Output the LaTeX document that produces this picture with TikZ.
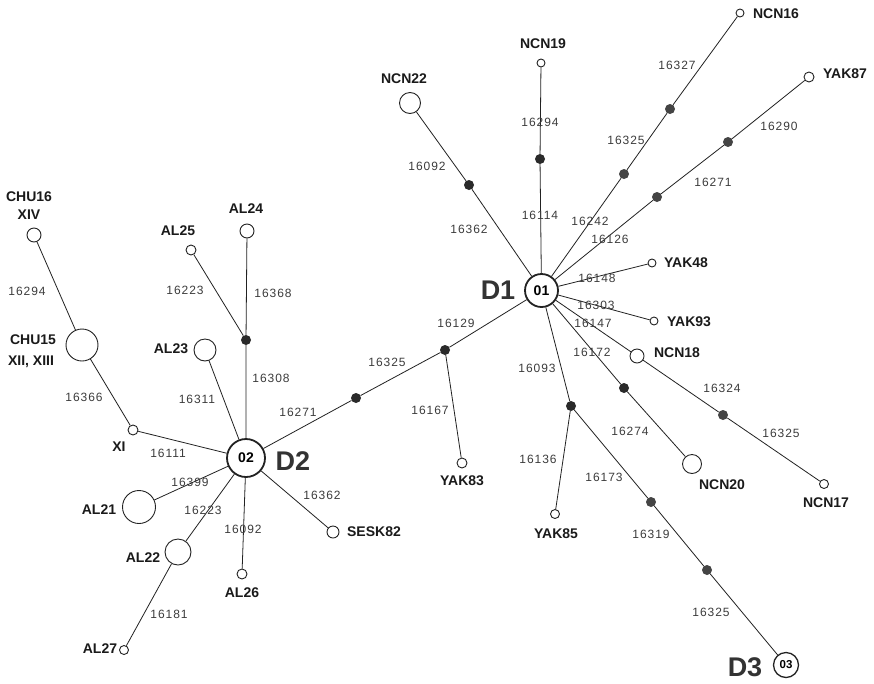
\documentclass[tikz,border=0pt]{standalone}
\usepackage{fontspec}
\setmainfont{Liberation Sans}
\newfontfamily\mutfont[LetterSpace=8]{Liberation Sans}
\definecolor{linec}{HTML}{222222}
\definecolor{dotc}{HTML}{2A2A2A}
\definecolor{dotg}{HTML}{444444}
\definecolor{labc}{HTML}{1A1A1A}
\definecolor{mutc}{HTML}{3C3C3C}
\definecolor{dc}{HTML}{333333}
\begin{document}
\begin{tikzpicture}[x=1pt,y=-1pt,
 edge/.style={draw=linec, line width=0.8pt},
 hap/.style={circle, draw=linec, fill=white, inner sep=0pt, line width=0.9pt},
 bighap/.style={hap, line width=1.8pt, font=\bfseries\fontsize{14}{14}\selectfont},
 mvd/.style={circle, fill=dotc, inner sep=0pt, minimum size=10pt},
 mvg/.style={circle, fill=dotg, inner sep=0pt, minimum size=10pt},
 lab/.style={font=\bfseries\fontsize{14}{14}\selectfont, text=labc, inner sep=0pt},
 mut/.style={font=\mutfont\fontsize{12}{12}\selectfont, text=mutc, inner sep=0pt},
 dlab/.style={font=\bfseries\fontsize{27}{27}\selectfont, text=dc, inner sep=0pt}]
\useasboundingbox[fill=white] (0,0) rectangle (874,683);

% central haplotypes
\node[bighap, minimum size=33pt] (D1) at (541.5,290.5) {01};
\node[bighap, minimum size=38pt] (D2) at (246,458) {02};
\node[bighap, minimum size=25pt, line width=1.3pt, font=\bfseries\fontsize{11.5}{11.5}\selectfont] (D3) at (786,665) {03};

% haplotypes
\node[hap, minimum size=8pt] (NCN19) at (541,63) {};
\node[hap, minimum size=21pt] (NCN22) at (410,103) {};
\node[hap, minimum size=8pt] (NCN16) at (740,13) {};
\node[hap, minimum size=10pt] (YAK87) at (809,77) {};
\node[hap, minimum size=8pt] (YAK48) at (652,263) {};
\node[hap, minimum size=8pt] (YAK93) at (654,321) {};
\node[hap, minimum size=14pt] (NCN18) at (637,356) {};
\node[hap, minimum size=9pt] (NCN17) at (824,484) {};
\node[hap, minimum size=19pt] (NCN20) at (692,464) {};
\node[hap, minimum size=9pt] (YAK85) at (555,514) {};
\node[hap, minimum size=10pt] (YAK83) at (462,463) {};
\node[hap, minimum size=12pt] (SESK82) at (333,532) {};
\node[hap, minimum size=10pt] (AL26) at (242,574) {};
\node[hap, minimum size=9pt] (AL27) at (124,650) {};
\node[hap, minimum size=26pt] (AL22) at (178,552) {};
\node[hap, minimum size=33pt] (AL21) at (139,507) {};
\node[hap, minimum size=10pt] (XI) at (133,430) {};
\node[hap, minimum size=32pt] (CHU15) at (82,345) {};
\node[hap, minimum size=14pt] (CHU16) at (34,235) {};
\node[hap, minimum size=22pt] (AL23) at (205,350) {};
\node[hap, minimum size=14pt] (AL24) at (247,231) {};
\node[hap, minimum size=10pt] (AL25) at (191,250) {};

% median vectors / intermediate mutations
\node[mvd] (m1) at (246,340) {};
\node[mvd] (m2) at (356,398) {};
\node[mvd] (m3) at (445,350) {};
\node[mvd] (m4) at (469,185) {};
\node[mvd] (m5) at (540,159) {};
\node[mvg] (m6) at (624,174) {};
\node[mvg] (m7) at (670,109) {};
\node[mvg] (m8) at (657,197) {};
\node[mvg] (m9) at (728,142) {};
\node[mvg] (m10) at (723,415) {};
\node[mvd] (m11) at (624,388) {};
\node[mvd] (m12) at (571,406) {};
\node[mvg] (m13) at (651,502) {};
\node[mvg] (m14) at (707,570) {};

% connectors
\draw[edge] (D1) -- (m4) -- (NCN22);
\draw[edge] (D1) -- (m5) -- (NCN19);
\draw[edge] (D1) -- (m6) -- (m7) -- (NCN16);
\draw[edge] (D1) -- (m8) -- (m9) -- (YAK87);
\draw[edge] (D1) -- (YAK48);
\draw[edge] (D1) -- (YAK93);
\draw[edge] (D1) -- (NCN18) -- (m10) -- (NCN17);
\draw[edge] (D1) -- (m11) -- (NCN20);
\draw[edge] (D1) -- (m12) -- (m13) -- (m14) -- (D3);
\draw[edge] (m12) -- (YAK85);
\draw[edge] (D1) -- (m3) -- (m2) -- (D2);
\draw[edge] (m3) -- (YAK83);
\draw[edge] (D2) -- (SESK82);
\draw[edge] (D2) -- (AL26);
\draw[edge] (D2) -- (AL22) -- (AL27);
\draw[edge] (D2) -- (AL21);
\draw[edge] (D2) -- (XI) -- (CHU15) -- (CHU16);
\draw[edge] (D2) -- (AL23);
\draw[edge] (D2) -- (m1) -- (AL24);
\draw[edge] (m1) -- (AL25);

% haplotype labels
\node[lab] (tNCN19) at (543,44) {NCN19};
\node[lab] (tNCN22) at (404,79) {NCN22};
\node[lab] (tNCN16) at (776,14) {NCN16};
\node[lab] (tYAK87) at (845,74) {YAK87};
\node[lab] (tYAK48) at (686,263) {YAK48};
\node[lab] (tYAK93) at (689,322) {YAK93};
\node[lab] (tNCN18) at (677,353) {NCN18};
\node[lab] (tNCN17) at (826,503) {NCN17};
\node[lab] (tNCN20) at (722,485) {NCN20};
\node[lab] (tYAK85) at (556,534) {YAK85};
\node[lab] (tYAK83) at (462,481) {YAK83};
\node[lab] (tSESK82) at (374,532) {SESK82};
\node[lab] (tAL26) at (242,593) {AL26};
\node[lab] (tAL27) at (100,649) {AL27};
\node[lab] (tAL22) at (143,558) {AL22};
\node[lab] (tAL21) at (99,510) {AL21};
\node[lab] (tXI) at (119,447) {XI};
\node[lab] (tCHU15) at (33,340) {CHU15};
\node[lab] (tCHU15b) at (31,362) {XII, XIII};
\node[lab] (tCHU16) at (29,197) {CHU16};
\node[lab] (tCHU16b) at (29,215) {XIV};
\node[lab] (tAL23) at (171,349) {AL23};
\node[lab] (tAL24) at (246,209) {AL24};
\node[lab] (tAL25) at (178,231) {AL25};

\node[dlab] (tD1) at (498,290) {D1};
\node[dlab] (tD2) at (293,461) {D2};
\node[dlab] (tD3) at (745,667) {D3};

% mutation labels
\node[mut] (u1) at (540,122) {16294};
\node[mut] (u2) at (540,215) {16114};
\node[mut] (u3) at (427,166) {16092};
\node[mut] (u4) at (469,229) {16362};
\node[mut] (u5) at (677,65) {16327};
\node[mut] (u6) at (626,140) {16325};
\node[mut] (u7) at (590,221) {16242};
\node[mut] (u8) at (779,126) {16290};
\node[mut] (u9) at (713,182) {16271};
\node[mut] (u10) at (610,239) {16126};
\node[mut] (u11) at (597,278) {16148};
\node[mut] (u12) at (596,305) {16303};
\node[mut] (u13) at (593,323) {16147};
\node[mut] (u14) at (592,352) {16172};
\node[mut] (u15) at (722,388) {16324};
\node[mut] (u16) at (781,433) {16325};
\node[mut] (u17) at (630,431) {16274};
\node[mut] (u18) at (537,368) {16093};
\node[mut] (u19) at (538,459) {16136};
\node[mut] (u20) at (604,477) {16173};
\node[mut] (u21) at (651,534) {16319};
\node[mut] (u22) at (711,612) {16325};
\node[mut] (u23) at (456,323) {16129};
\node[mut] (u24) at (387,362) {16325};
\node[mut] (u25) at (298,412) {16271};
\node[mut] (u26) at (430,410) {16167};
\node[mut] (u27) at (322,495) {16362};
\node[mut] (u28) at (271,378) {16308};
\node[mut] (u29) at (197,399) {16311};
\node[mut] (u30) at (84,397) {16366};
\node[mut] (u31) at (168,453) {16111};
\node[mut] (u32) at (190,482) {16399};
\node[mut] (u33) at (203,510) {16223};
\node[mut] (u34) at (243,529) {16092};
\node[mut] (u35) at (169,614) {16181};
\node[mut] (u36) at (27,291) {16294};
\node[mut] (u37) at (185,290) {16223};
\node[mut] (u38) at (273,293) {16368};
\end{tikzpicture}
\end{document}
